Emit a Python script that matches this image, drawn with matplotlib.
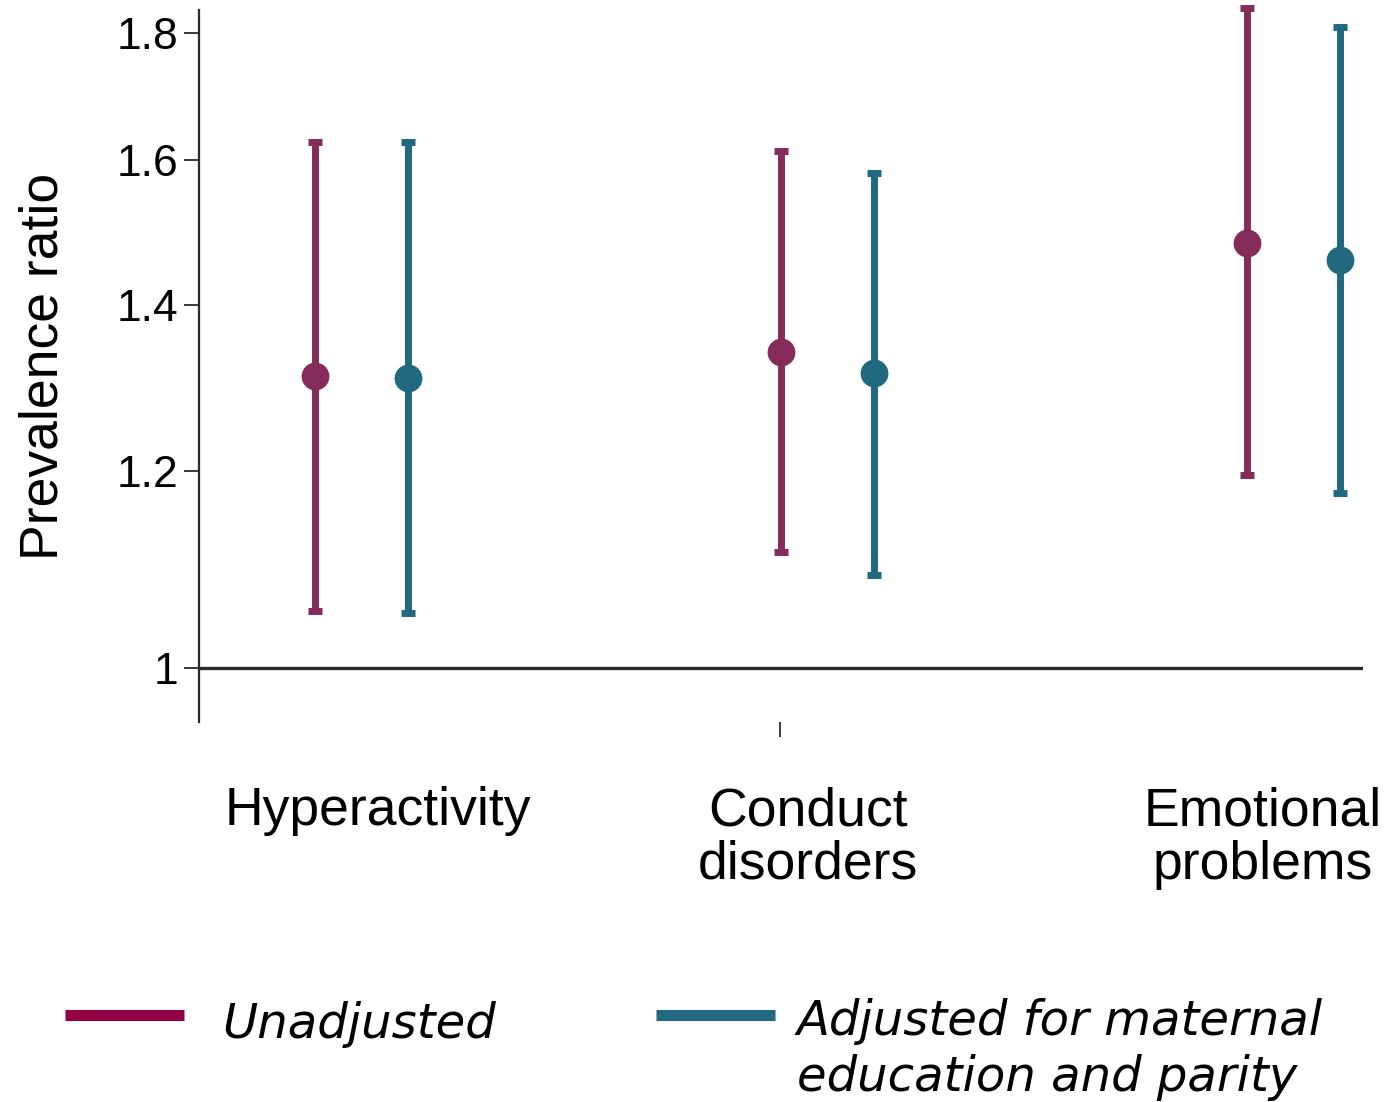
import matplotlib.pyplot as plt
from matplotlib.lines import Line2D

# Prevalence ratios with 95% CI
categories = ['Hyperactivity', 'Conduct\ndisorders', 'Emotional\nproblems']
unadj_pr = [1.31, 1.340, 1.482]
unadj_lo = [1.054, 1.113, 1.195]
unadj_hi = [1.627, 1.614, 1.842]
adj_pr = [1.308, 1.314, 1.459]
adj_lo = [1.052, 1.090, 1.176]
adj_hi = [1.627, 1.581, 1.810]

y_ticks = [1, 1.2, 1.4, 1.6, 1.8]
y_ticklabels = ['1', '1.2', '1.4', '1.6', '1.8']

purple = '#852C5B'
teal = '#21697F'
legend_purple = '#930046'

plt.rcParams['font.family'] = ['Liberation Sans', 'DejaVu Sans']

fig = plt.figure(figsize=(13.89, 11.02), dpi=100)
ax = fig.add_axes([0.1433, 0.3448, 0.838, 0.6461])

centers = [1, 2, 3]
off = 0.1
x_un = [c - off for c in centers]
x_ad = [c + off for c in centers]

ax.axhline(1, color='#2a2a2a', lw=2.4, zorder=1)

ax.errorbar(x_un, unadj_pr,
            yerr=[[p - l for p, l in zip(unadj_pr, unadj_lo)],
                  [h - p for p, h in zip(unadj_pr, unadj_hi)]],
            fmt='o', color=purple, ms=19, elinewidth=5, capsize=5, capthick=5,
            zorder=3, clip_on=False)
ax.errorbar(x_ad, adj_pr,
            yerr=[[p - l for p, l in zip(adj_pr, adj_lo)],
                  [h - p for p, h in zip(adj_pr, adj_hi)]],
            fmt='o', color=teal, ms=19, elinewidth=5, capsize=5, capthick=5,
            zorder=3, clip_on=False)

ax.set_yscale('log')
ax.set_ylim(0.951, 1.839)
ax.set_xlim(0.651, 3.150)
ax.set_yticks(y_ticks)
ax.set_yticklabels(y_ticklabels)
ax.yaxis.set_minor_locator(plt.NullLocator())
ax.tick_params(axis='y', labelsize=32, length=11, width=1.3, color='#2a2a2a', pad=4)
ax.set_xticks([1.898])
ax.set_xticklabels([''])
ax.tick_params(axis='x', length=11, width=1.3, color='#2a2a2a', pad=0)
ax.xaxis.set_minor_locator(plt.NullLocator())

for s in ['top', 'right', 'bottom']:
    ax.spines[s].set_visible(False)
ax.spines['left'].set_linewidth(1.6)
ax.spines['left'].set_color('#2a2a2a')

ax.set_ylabel('Prevalence ratio', fontsize=38.5)
ax.yaxis.set_label_coords(-0.1125, 0.5)

# category labels below the plot
label_x = [378, 808, 1263]
for cx, lab in zip(label_x, categories):
    fig.text(cx / 1389, 1 - 786 / 1102, lab, ha='center', va='top',
             fontsize=38.5, linespacing=1.1)

# legend drawn in figure coordinates
fig.add_artist(Line2D([65 / 1389, 184 / 1389], [1 - 1015 / 1102] * 2,
                      color=legend_purple, lw=8, solid_capstyle='butt'))
fig.add_artist(Line2D([656 / 1389, 775 / 1389], [1 - 1015 / 1102] * 2,
                      color=teal, lw=8, solid_capstyle='butt'))
fig.text(222 / 1389, 1 - 1024 / 1102, 'Unadjusted', ha='left', va='center',
         fontsize=34.7, style='italic', family='DejaVu Sans')
fig.text(797 / 1389, 1 - 998 / 1102, 'Adjusted for maternal\neducation and parity',
         ha='left', va='top', fontsize=34.7, style='italic', family='DejaVu Sans',
         linespacing=1.24)

fig.savefig('out.png', dpi=100)
